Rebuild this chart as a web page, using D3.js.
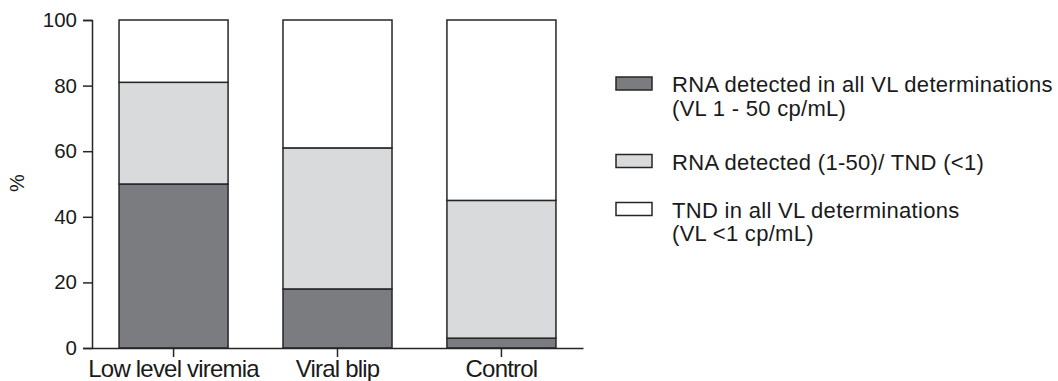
<!DOCTYPE html>
<html>
<head>
<meta charset="utf-8">
<script src="https://cdn.jsdelivr.net/npm/d3@7"></script>
<style>
  body { margin: 0; background: #fff; }
  svg { font-family: 'Liberation Sans', Arial, sans-serif; }
</style>
</head>
<body>
<div id="chart"></div>
<script>
// Data
const groups = ['Low level viremia', 'Viral blip', 'Control'];
const detectedAll = [50, 18, 3];     // RNA detected in all VL determinations
const detectedMixed = [31, 43, 42];  // RNA detected (1-50)/ TND (<1)
const tndAll = [19, 39, 55];         // TND in all VL determinations
const yTicks = [0, 20, 40, 60, 80, 100];
const seriesKeys = ['detectedAll', 'detectedMixed', 'tndAll'];
const legendLabels = [
  ['RNA detected in all VL determinations', '(VL 1 - 50 cp/mL)'],
  ['RNA detected (1-50)/ TND (<1)'],
  ['TND in all VL determinations', '(VL <1 cp/mL)']
];

const color = {
  detectedAll: '#7b7c80',
  detectedMixed: '#d9dadc',
  tndAll: '#ffffff',
  stroke: '#262626',
  text: '#1a1a1a'
};

const w = 1058;
const h = 381;
const margin = { top: 20, right: 475, bottom: 33, left: 92 };
const width = w - margin.left - margin.right;
const height = h - margin.top - margin.bottom;

const table = groups.map((g, i) => ({
  group: g,
  detectedAll: detectedAll[i],
  detectedMixed: detectedMixed[i],
  tndAll: tndAll[i]
}));

const stacked = d3.stack().keys(seriesKeys)(table);

const svg = d3.select('#chart')
  .append('svg')
  .attr('width', w)
  .attr('height', h)
  .append('g')
  .attr('transform', `translate(${margin.left}, ${margin.top})`);

const x = d3.scaleBand()
  .range([0, width])
  .domain(groups)
  .paddingInner(0.335)
  .paddingOuter(0.165);

const y = d3.scaleLinear()
  .domain([0, 100])
  .range([height, 0]);

// Bars
svg.append('g')
  .selectAll('g')
  .data(stacked)
  .enter()
  .append('g')
  .attr('fill', (s) => color[s.key])
  .selectAll('rect')
  .data((s) => s)
  .enter()
  .append('rect')
  .attr('x', (d) => x(d.data.group))
  .attr('y', (d) => y(d[1]))
  .attr('width', x.bandwidth())
  .attr('height', (d) => y(d[0]) - y(d[1]))
  .attr('stroke', color.stroke)
  .attr('stroke-width', 1.5);

// Y axis
const yAxis = svg.append('g')
  .call(d3.axisLeft(y).tickValues(yTicks).tickSize(9).tickPadding(6));
yAxis.select('.domain').attr('stroke', color.stroke).attr('stroke-width', 1.5);
yAxis.selectAll('.tick line').attr('stroke', color.stroke).attr('stroke-width', 1.5);
yAxis.selectAll('.tick text')
  .attr('fill', color.text)
  .style('font-size', '20.5px')
  .style('font-family', 'inherit');

// X axis
const xAxis = svg.append('g')
  .attr('transform', `translate(0, ${height})`)
  .call(d3.axisBottom(x).tickSize(9).tickSizeOuter(0).tickPadding(3));
xAxis.select('.domain').attr('stroke', color.stroke).attr('stroke-width', 1.5);
xAxis.selectAll('.tick line').attr('stroke', color.stroke).attr('stroke-width', 1.5);
xAxis.selectAll('.tick text')
  .attr('fill', color.text)
  .style('font-size', '24px')
  .style('letter-spacing', '-0.8px')
  .style('font-family', 'inherit');

// Y label
svg.append('text')
  .attr('transform', `translate(${-68}, ${height / 2 - 1}) rotate(-90)`)
  .attr('text-anchor', 'middle')
  .attr('fill', color.text)
  .style('font-size', '20px')
  .text('%');

// Legend
const legend = svg.append('g')
  .attr('transform', `translate(${width + 33}, 0)`);

const legendY = [57, 134.5, 182.5];
seriesKeys.forEach((k, i) => {
  const item = legend.append('g')
    .attr('transform', `translate(0, ${legendY[i]})`);
  item.append('rect')
    .attr('x', 0)
    .attr('y', 0)
    .attr('width', 36)
    .attr('height', 13)
    .attr('fill', color[k])
    .attr('stroke', color.stroke)
    .attr('stroke-width', 1.5);
  item.selectAll('text')
    .data(legendLabels[i])
    .enter()
    .append('text')
    .attr('x', 56)
    .attr('y', (d, j) => 15 + j * 23.5)
    .attr('fill', color.text)
    .style('font-size', '22px')
    .style('letter-spacing', '0.3px')
    .text((d) => d);
});
</script>
</body>
</html>
